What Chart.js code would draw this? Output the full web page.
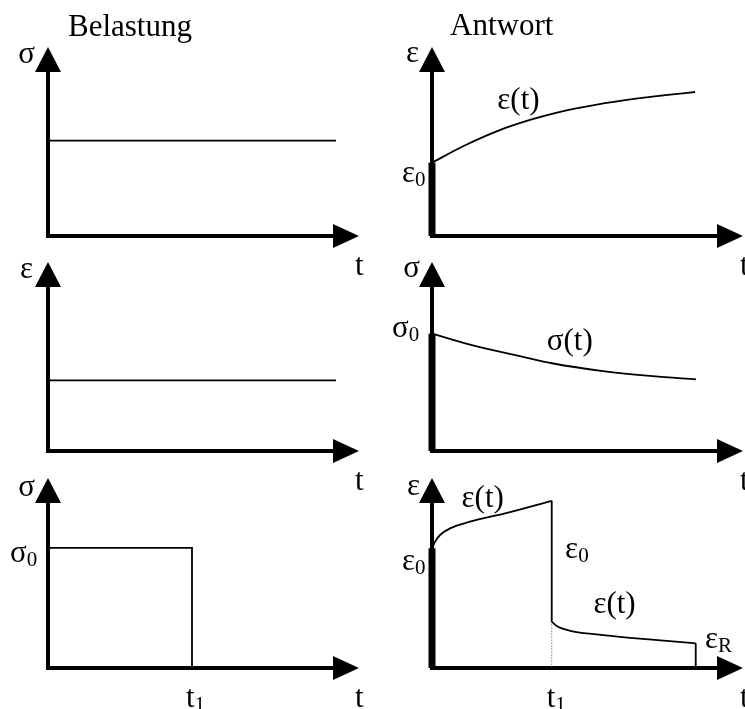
<!DOCTYPE html>
<html>
<head>
<meta charset="utf-8">
<script src="https://cdn.jsdelivr.net/npm/chart.js@4/dist/chart.umd.min.js"></script>
<style>
  html, body { margin: 0; padding: 0; background: #fff; }
  #wrap { position: relative; width: 745px; height: 709px; overflow: hidden; }
  #wrap canvas { position: absolute; left: 0; top: 0; }
</style>
</head>
<body>
<div id="wrap">
  <canvas id="p1" width="745" height="709"></canvas>
  <canvas id="p2" width="745" height="709"></canvas>
  <canvas id="p3" width="745" height="709"></canvas>
  <canvas id="p4" width="745" height="709"></canvas>
  <canvas id="p5" width="745" height="709"></canvas>
  <canvas id="p6" width="745" height="709"></canvas>
</div>
<script>
// --- data (t and value in arbitrary units, axis tips at 10) ---
const T_MAX = 10;
const V_MAX = 10;

// Belastung (left column)
const sigmaConstT = [0, 9.26];
const sigmaConstV = [5.05, 5.05];

const epsConstT = [0, 9.26];
const epsConstV = [3.74, 3.74];

const sigmaStepT = [0, 4.63, 4.63];
const sigmaStepV = [6.32, 6.32, 0];

// Antwort (right column)
const creepT = [0, 1, 2.08, 3.15, 4.12, 5.3, 6.5, 7.5, 8.46];
const creepV = [3.88, 4.75, 5.54, 6.14, 6.57, 6.95, 7.25, 7.45, 7.62];

const relaxT = [0, 1.22, 2.83, 3.9, 5.5, 7.1, 8.49];
const relaxV = [6.21, 5.63, 5.02, 4.63, 4.23, 3.96, 3.79];

const loadT = [0, 0.1, 0.26, 0.58, 1.22, 2.35, 3.85];
const loadV = [6.3, 6.65, 7.0, 7.35, 7.7, 8.14, 8.8];
const unloadT = [3.85, 4.01, 4.44, 5.3, 6.37, 7.44, 8.48];
const unloadV = [2.44, 2.21, 1.96, 1.77, 1.59, 1.44, 1.3];

// --- helpers ---
const W = 745, H = 709;
const MAIN_FONT = '31px "Liberation Serif", "Times New Roman", serif';
const SUB_FONT = '21px "Liberation Serif", "Times New Roman", serif';

const pts = (xs, ys) => xs.map((x, i) => ({ x: x, y: ys[i] }));
const last = a => a[a.length - 1];

function line(data, extra) {
  return Object.assign({
    data: data,
    borderColor: '#000',
    borderWidth: 1.8,
    pointRadius: 0,
    tension: 0,
    fill: false,
    clip: false
  }, extra || {});
}
const curve = data => line(data, { cubicInterpolationMode: 'monotone' });
// dicker Abschnitt auf der y-Achse (Sofortanteil)
const thick = v => line([{ x: 0, y: 0 }, { x: 0, y: v }], { borderWidth: 7, borderCapStyle: 'butt' });

function drawLabel(ctx, text, sub, px, py, align) {
  ctx.font = MAIN_FONT;
  const w1 = ctx.measureText(text).width;
  ctx.font = SUB_FONT;
  const w2 = sub ? ctx.measureText(sub).width : 0;
  let left = px;
  if (align === 'right') left = px - w1 - w2;
  ctx.textAlign = 'left';
  ctx.textBaseline = 'alphabetic';
  ctx.fillStyle = '#000';
  ctx.font = MAIN_FONT;
  ctx.fillText(text, left, py);
  if (sub) {
    ctx.font = SUB_FONT;
    ctx.fillText(sub, left + w1, py + 4);
  }
}

// Achsen mit Pfeilspitzen + Beschriftungen
function axesPlugin(labels) {
  return {
    id: 'arrowAxes',
    beforeDatasetsDraw(chart) {
      const { ctx, scales: { x, y } } = chart;
      const x0 = x.getPixelForValue(0), y0 = y.getPixelForValue(0);
      const xt = x.getPixelForValue(T_MAX), yt = y.getPixelForValue(V_MAX);
      ctx.save();
      ctx.strokeStyle = '#000';
      ctx.fillStyle = '#000';
      ctx.lineWidth = 4;
      ctx.beginPath();
      ctx.moveTo(x0, y0 + 2); ctx.lineTo(x0, yt + 20);
      ctx.moveTo(x0 - 2, y0); ctx.lineTo(xt - 20, y0);
      ctx.stroke();
      ctx.beginPath();
      ctx.moveTo(x0, yt); ctx.lineTo(x0 - 13, yt + 25); ctx.lineTo(x0 + 13, yt + 25); ctx.closePath();
      ctx.moveTo(xt, y0); ctx.lineTo(xt - 26, y0 - 12); ctx.lineTo(xt - 26, y0 + 12); ctx.closePath();
      ctx.fill();
      ctx.restore();
    },
    afterDraw(chart) {
      const { ctx, scales: { x, y } } = chart;
      const P = {
        X: v => x.getPixelForValue(v), Y: v => y.getPixelForValue(v),
        x0: x.getPixelForValue(0), y0: y.getPixelForValue(0),
        xt: x.getPixelForValue(T_MAX), yt: y.getPixelForValue(V_MAX)
      };
      ctx.save();
      labels.forEach(l => {
        const p = l.at(P);
        drawLabel(ctx, l.text, l.sub, p[0], p[1], l.align);
      });
      ctx.restore();
    }
  };
}

function panel(id, box, datasets, labels) {
  return new Chart(document.getElementById(id), {
    type: 'line',
    data: { datasets: datasets },
    options: {
      responsive: false,
      animation: false,
      events: [],
      layout: { padding: { left: box[0], right: W - box[1], top: box[2], bottom: H - box[3] } },
      plugins: { legend: { display: false }, tooltip: { enabled: false } },
      scales: {
        x: { type: 'linear', min: 0, max: T_MAX, display: false },
        y: { type: 'linear', min: 0, max: V_MAX, display: false }
      }
    },
    plugins: [axesPlugin(labels)]
  });
}

// Pixel-Rahmen: [x0, Pfeilspitze x, Pfeilspitze y, y0]
const LEFT = [48, 359], RIGHT = [432, 743];
const ROW1 = [47, 236], ROW2 = [262, 451], ROW3 = [478, 668];
const box = (c, r) => [c[0], c[1], r[0], r[1]];

const tLabel = { text: 't', at: P => [P.xt - 4, P.y0 + 39] };

// --- 1: konstante Spannung ---
panel('p1', box(LEFT, ROW1), [line(pts(sigmaConstT, sigmaConstV))], [
  { text: 'Belastung', at: P => [P.x0 + 20, P.yt - 11] },
  { text: 'σ', align: 'right', at: P => [P.x0 - 13, P.yt + 16] },
  tLabel
]);

// --- 2: Kriechen ---
panel('p2', box(RIGHT, ROW1), [thick(creepV[0]), curve(pts(creepT, creepV))], [
  { text: 'Antwort', at: P => [P.x0 + 18, P.yt - 12] },
  { text: 'ε', align: 'right', at: P => [P.x0 - 13, P.yt + 15] },
  { text: 'ε', sub: '0', at: P => [P.x0 - 30, P.Y(creepV[0]) + 19] },
  { text: 'ε(t)', at: P => [P.X(2.1), P.Y(6.7)] },
  { text: 't', at: P => [P.xt - 3, P.y0 + 39] }
]);

// --- 3: konstante Dehnung ---
panel('p3', box(LEFT, ROW2), [line(pts(epsConstT, epsConstV))], [
  { text: 'ε', align: 'right', at: P => [P.x0 - 15, P.yt + 16] },
  tLabel
]);

// --- 4: Relaxation ---
panel('p4', box(RIGHT, ROW2), [thick(relaxV[0]), curve(pts(relaxT, relaxV))], [
  { text: 'σ', align: 'right', at: P => [P.x0 - 12, P.yt + 15] },
  { text: 'σ', sub: '0', at: P => [P.x0 - 40, P.Y(relaxV[0]) + 3] },
  { text: 'σ(t)', at: P => [P.X(3.69), P.Y(5.32)] },
  { text: 't', at: P => [P.xt - 3, P.y0 + 39] }
]);

// --- 5: Spannungssprung bis t1 ---
panel('p5', box(LEFT, ROW3), [line(pts(sigmaStepT, sigmaStepV))], [
  { text: 'σ', align: 'right', at: P => [P.x0 - 13, P.yt + 18] },
  { text: 'σ', sub: '0', at: P => [P.x0 - 38, P.Y(sigmaStepV[0]) + 14] },
  { text: 't', sub: '1', at: P => [P.X(sigmaStepT[1]) - 6, P.y0 + 39] },
  tLabel
]);

// --- 6: Kriechen und Rückkriechen ---
panel('p6', box(RIGHT, ROW3), [
  thick(loadV[0]),
  curve(pts(loadT, loadV)),
  line([{ x: last(loadT), y: last(loadV) }, { x: unloadT[0], y: unloadV[0] }]),
  curve(pts(unloadT, unloadV)),
  line([{ x: last(unloadT), y: last(unloadV) }, { x: last(unloadT), y: 0 }]),
  line([{ x: unloadT[0], y: unloadV[0] }, { x: unloadT[0], y: 0 }],
       { borderWidth: 1, borderDash: [1, 2], borderColor: '#444' })
], [
  { text: 'ε', align: 'right', at: P => [P.x0 - 12, P.yt + 17] },
  { text: 'ε', sub: '0', at: P => [P.x0 - 30, P.Y(loadV[0]) + 22] },
  { text: 'ε(t)', at: P => [P.X(0.95), P.Y(8.47)] },
  { text: 'ε', sub: '0', at: P => [P.X(4.28), P.Y(5.79)] },
  { text: 'ε(t)', at: P => [P.X(5.19), P.Y(2.89)] },
  { text: 'ε', sub: 'R', at: P => [P.X(8.78), P.Y(1.05)] },
  { text: 't', sub: '1', at: P => [P.X(unloadT[0]) - 5, P.y0 + 39] },
  { text: 't', at: P => [P.xt - 3, P.y0 + 39] }
]);
</script>
</body>
</html>
